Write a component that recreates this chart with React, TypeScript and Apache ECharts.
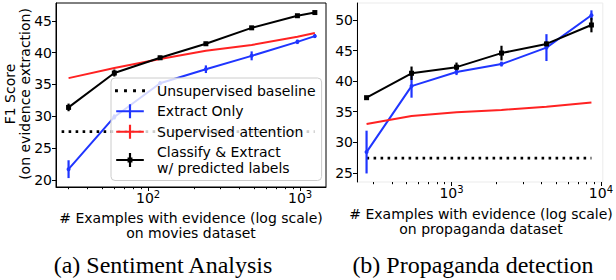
import React, { useEffect, useRef } from 'react';
import * as echarts from 'echarts';

// ---- Data: (a) Sentiment Analysis (movies dataset)
const leftX = [30, 60, 120, 240, 480, 960, 1250];
const leftClassify = [31.4, 36.8, 39.2, 41.4, 43.9, 45.8, 46.3];
const leftClassifyErr = [0.6, 0.55, 0.3, 0.3, 0.3, 0.25, 0.2];
const leftExtract = [21.7, 29.9, 35.2, 37.4, 39.5, 41.7, 42.6];
const leftExtractErr = [1.4, 0.4, 0.3, 0.6, 0.7, 0.35, 0.3];
const leftSupervised = [36.0, 37.6, 39.0, 40.3, 41.2, 42.5, 43.1];
const leftBaseline = 27.6;
const leftBaselineX = [27, 1250];

// ---- Data: (b) Propaganda detection
const rightX = [270, 540, 1080, 2160, 4320, 8640];
const rightClassify = [37.3, 41.3, 42.3, 44.6, 46.1, 49.2];
const rightClassifyErr = [0.3, 1.1, 0.75, 1.2, 0.4, 1.2];
const rightExtract = [28.4, 39.2, 41.5, 42.8, 45.5, 50.8];
const rightExtractErr = [3.5, 1.9, 0.5, 0.4, 2.2, 0.8];
const rightSupervised = [33.0, 34.3, 34.9, 35.3, 35.8, 36.5];
const rightBaseline = 27.4;
const rightBaselineX = [270, 8640];

// ---- Ticks
const leftYTicks = [20, 25, 30, 35, 40, 45];
const rightYTicks = [25, 30, 35, 40, 45, 50];
const leftXMajor = [100, 1000];
const leftXMinor = [30, 40, 50, 60, 70, 80, 90, 200, 300, 400, 500, 600, 700, 800, 900];
const rightXMajor = [1000, 10000];
const rightXMinor = [300, 400, 500, 600, 700, 800, 900, 2000, 3000, 4000, 5000, 6000, 7000, 8000, 9000];

const NAME_BASE = 'Unsupervised baseline';
const NAME_EXT = 'Extract Only';
const NAME_SUP = 'Supervised attention';
const NAME_CLS = 'Classify & Extract\nw/ predicted labels';

const BLUE = '#1f35ff';
const RED = '#ff2222';
const BLACK = '#000000';
const FONT = 'DejaVu Sans';

const zip = (xs: number[], ys: number[]) => xs.map((x, i) => [x, ys[i]]);
const errData = (xs: number[], ys: number[], es: number[]) =>
  xs.map((x, i) => [x, ys[i] - es[i], ys[i] + es[i]]);

const errSeries = (data: number[][], color: string, xi: number, yi: number) => ({
  type: 'custom',
  xAxisIndex: xi,
  yAxisIndex: yi,
  data,
  encode: { x: 0, y: [1, 2] },
  z: 3,
  renderItem: (params: any, api: any) => {
    const p1 = api.coord([api.value(0), api.value(1)]);
    const p2 = api.coord([api.value(0), api.value(2)]);
    return {
      type: 'line',
      shape: { x1: p1[0], y1: p1[1], x2: p2[0], y2: p2[1] },
      style: { stroke: color, lineWidth: 2.2 },
    };
  },
});

const logFormatter = (v: number) => {
  const e = Math.round(Math.log10(v));
  return '{b|10}{s|' + e + '}';
};

const majorXAxis = (gridIndex: number, min: number, max: number, vals: number[], showLine: boolean) => ({
  type: 'log',
  gridIndex,
  min,
  max,
  position: 'bottom',
  axisLine: { show: showLine, lineStyle: { color: '#000', width: 1 } },
  axisTick: { show: true, customValues: vals, length: 4, lineStyle: { color: '#000' } },
  axisLabel: {
    customValues: vals,
    formatter: logFormatter,
    margin: 4,
    color: '#000',
    rich: {
      b: { fontSize: 14, lineHeight: 14, fontFamily: FONT, color: '#000' },
      s: { fontSize: 10, lineHeight: 10, fontFamily: FONT, color: '#000', padding: [0, 0, 7, 0] },
    },
  },
  splitLine: { show: false },
});

const minorXAxis = (gridIndex: number, min: number, max: number, vals: number[]) => ({
  type: 'log',
  gridIndex,
  min,
  max,
  position: 'bottom',
  axisLine: { show: false },
  axisTick: { show: true, customValues: vals, length: 2.2, lineStyle: { color: '#000' } },
  axisLabel: { show: false },
  splitLine: { show: false },
});

const yAxisDef = (gridIndex: number, min: number, max: number, vals: number[]) => ({
  type: 'value',
  gridIndex,
  min,
  max,
  axisLine: { show: true, lineStyle: { color: '#000', width: 1 } },
  axisTick: { show: true, customValues: vals, length: 4, lineStyle: { color: '#000' } },
  axisLabel: { customValues: vals, fontSize: 14, fontFamily: FONT, color: '#000', margin: 4 },
  splitLine: { show: false },
});

const plusIcon = 'path://M0,6L28,6L28,8.2L0,8.2Z M12.9,0L15.1,0L15.1,14.2L12.9,14.2Z';
const plusDotIcon =
  'path://M0,6L28,6L28,8.2L0,8.2Z M12.9,0L15.1,0L15.1,14.2L12.9,14.2Z M11.5,4.6L16.5,4.6L16.5,9.6L11.5,9.6Z';
const dotIcon =
  'path://M0,0h2.6v2.6h-2.6Z M8,0h2.6v2.6h-2.6Z M16,0h2.6v2.6h-2.6Z M24,0h2.6v2.6h-2.6Z';

function buildOption() {
  const series: any[] = [];
  const panels = [
    {
      xi: 0, yi: 0, x: leftX, cls: leftClassify, clsErr: leftClassifyErr, ext: leftExtract,
      extErr: leftExtractErr, sup: leftSupervised, base: leftBaseline, baseX: leftBaselineX,
    },
    {
      xi: 2, yi: 1, x: rightX, cls: rightClassify, clsErr: rightClassifyErr, ext: rightExtract,
      extErr: rightExtractErr, sup: rightSupervised, base: rightBaseline, baseX: rightBaselineX,
    },
  ];
  panels.forEach((p) => {
    series.push({
      type: 'line',
      name: NAME_BASE,
      xAxisIndex: p.xi,
      yAxisIndex: p.yi,
      data: p.baseX.map((x) => [x, p.base]),
      symbol: 'none',
      color: BLACK,
      lineStyle: { color: BLACK, width: 2.6, type: [2.6, 4.4] },
      z: 2,
    });
    series.push({
      type: 'line',
      name: NAME_EXT,
      xAxisIndex: p.xi,
      yAxisIndex: p.yi,
      data: zip(p.x, p.ext),
      symbol: 'circle',
      symbolSize: 4,
      color: BLUE,
      lineStyle: { color: BLUE, width: 2 },
      itemStyle: { color: BLUE },
      z: 3,
    });
    series.push(errSeries(errData(p.x, p.ext, p.extErr), BLUE, p.xi, p.yi));
    series.push({
      type: 'line',
      name: NAME_SUP,
      xAxisIndex: p.xi,
      yAxisIndex: p.yi,
      data: zip(p.x, p.sup),
      symbol: 'none',
      color: RED,
      lineStyle: { color: RED, width: 2 },
      z: 3,
    });
    series.push({
      type: 'line',
      name: NAME_CLS,
      xAxisIndex: p.xi,
      yAxisIndex: p.yi,
      data: zip(p.x, p.cls),
      symbol: 'rect',
      symbolSize: 5,
      color: BLACK,
      lineStyle: { color: BLACK, width: 2 },
      itemStyle: { color: BLACK },
      z: 4,
    });
    series.push(errSeries(errData(p.x, p.cls, p.clsErr), BLACK, p.xi, p.yi));
  });

  return {
    animation: false,
    backgroundColor: '#ffffff',
    grid: [
      { left: 56, top: 3, width: 270, height: 184, show: true, borderColor: '#000', borderWidth: 1, backgroundColor: 'transparent' },
      { left: 357, top: 3, width: 250, height: 179, show: true, borderColor: '#ebebeb', borderWidth: 1, backgroundColor: 'transparent' },
    ],
    xAxis: [
      majorXAxis(0, 24.8, 1480, leftXMajor, true),
      minorXAxis(0, 24.8, 1480, leftXMinor),
      majorXAxis(1, 233, 10300, rightXMajor, false),
      minorXAxis(1, 233, 10300, rightXMinor),
    ],
    yAxis: [
      yAxisDef(0, 18.9, 47.8, leftYTicks),
      yAxisDef(1, 23.5, 52.8, rightYTicks),
    ],
    legend: {
      left: 111,
      top: 78,
      orient: 'vertical',
      selectedMode: false,
      backgroundColor: 'rgba(255,255,255,0.8)',
      borderColor: '#cccccc',
      borderWidth: 1,
      borderRadius: 4,
      padding: [5, 6, 5, 4],
      itemGap: 5,
      itemWidth: 30,
      itemHeight: 14,
      textStyle: { fontSize: 14, fontFamily: FONT, color: '#000', lineHeight: 15.5, padding: [0, 0, 0, 7] },
      data: [
        { name: NAME_BASE, icon: dotIcon, itemStyle: { color: BLACK } },
        { name: NAME_EXT, icon: plusIcon, itemStyle: { color: BLUE } },
        { name: NAME_SUP, icon: plusIcon, itemStyle: { color: RED } },
        { name: NAME_CLS, icon: plusDotIcon, itemStyle: { color: BLACK } },
      ],
    },
    graphic: [
      {
        type: 'text',
        x: 17,
        y: 94,
        rotation: Math.PI / 2,
        style: {
          text: 'F1 Score\n(on evidence extraction)',
          fontSize: 14,
          fontFamily: FONT,
          fill: '#000',
          align: 'center',
          verticalAlign: 'middle',
          lineHeight: 15,
        },
      },
      {
        type: 'text',
        x: 191,
        y: 225,
        style: {
          text: '# Examples with evidence (log scale)\non movies dataset',
          fontSize: 14,
          fontFamily: FONT,
          fill: '#000',
          align: 'center',
          verticalAlign: 'middle',
          lineHeight: 15,
        },
      },
      {
        type: 'text',
        x: 481,
        y: 221.5,
        style: {
          text: '# Examples with evidence (log scale)\non propaganda dataset',
          fontSize: 14,
          fontFamily: FONT,
          fill: '#000',
          align: 'center',
          verticalAlign: 'middle',
          lineHeight: 15,
        },
      },
      {
        type: 'text',
        x: 163,
        y: 265,
        style: {
          text: '(a) Sentiment Analysis',
          fontSize: 24,
          fontFamily: 'Liberation Serif',
          fill: '#000',
          align: 'center',
          verticalAlign: 'middle',
        },
      },
      {
        type: 'text',
        x: 473,
        y: 265,
        style: {
          text: '(b) Propaganda detection',
          fontSize: 24,
          fontFamily: 'Liberation Serif',
          fill: '#000',
          align: 'center',
          verticalAlign: 'middle',
        },
      },
    ],
    series,
  };
}

export default function App() {
  const ref = useRef<HTMLDivElement>(null);
  useEffect(() => {
    if (!ref.current) return;
    const chart = echarts.init(ref.current, null, { renderer: 'svg' });
    chart.setOption(buildOption() as any);
    return () => chart.dispose();
  }, []);
  return (
    <div
      ref={ref}
      style={{ position: 'fixed', left: 0, top: 0, width: 616, height: 280, background: '#fff' }}
    />
  );
}
